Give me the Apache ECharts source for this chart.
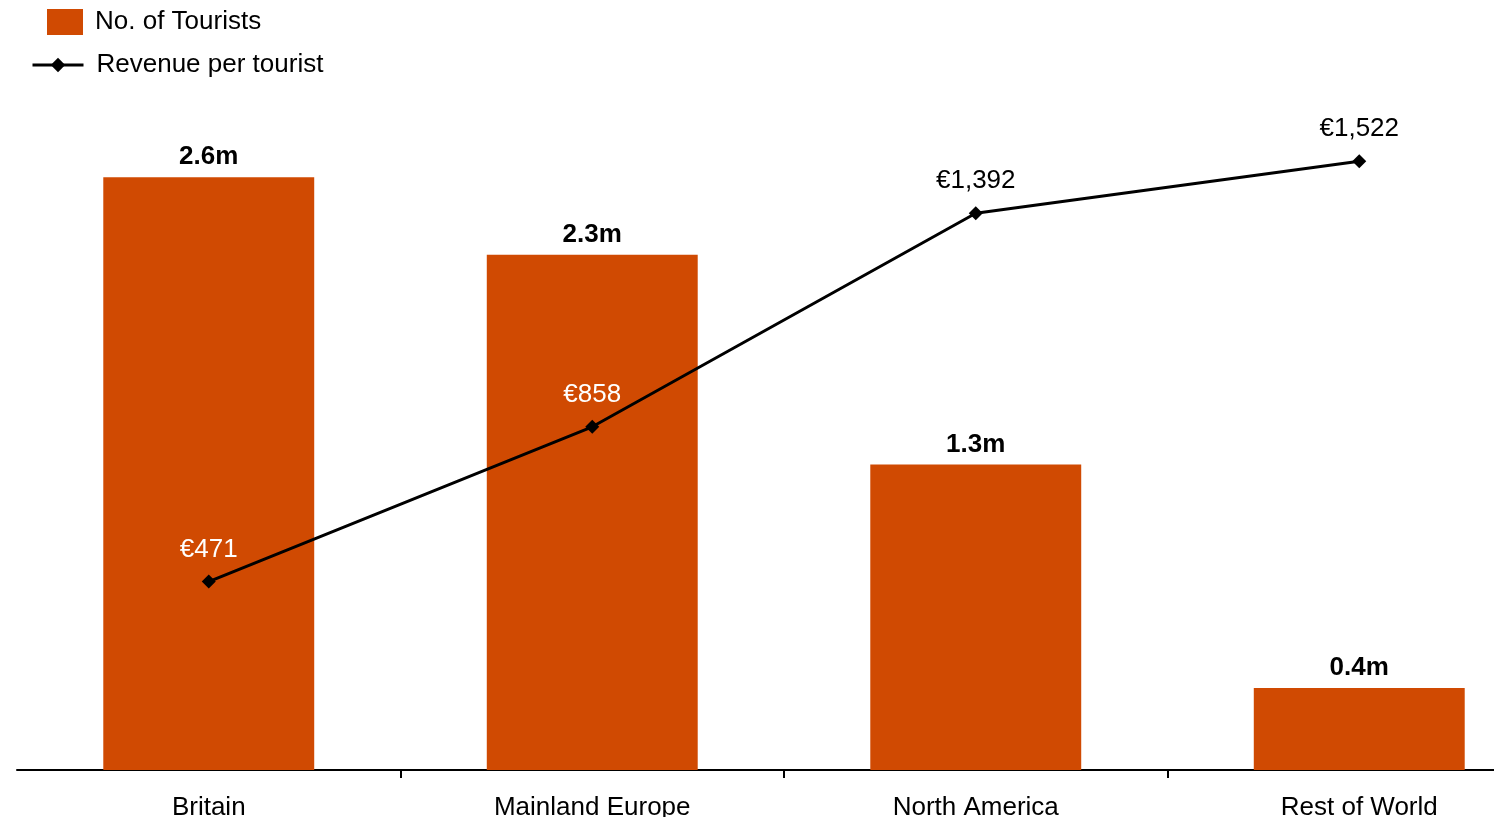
<!DOCTYPE html>
<html>
<head>
<meta charset="utf-8">
<script src="https://cdn.jsdelivr.net/npm/echarts@6/dist/echarts.min.js"></script>
<style>
  html, body { margin: 0; padding: 0; background: #fff; }
  #main { width: 1494px; height: 817px; }
</style>
</head>
<body>
<div id="main"></div>
<script>
// data
var regions = ['Britain', 'Mainland Europe', 'North America', 'Rest of World'];
var tourists = [2.6, 2.26, 1.34, 0.36];          // millions
var revenue = [471, 858, 1392, 1522];            // euro per tourist
var revenueLabelColors = ['#ffffff', '#ffffff', '#000000', '#000000'];

var orange = '#D04A02';
var font = '"Liberation Sans", Arial, sans-serif';

var myChart = echarts.init(document.getElementById('main'));

var option = {
    animation: false,
    textStyle: { fontFamily: font },
    legend: [{
        data: [{ name: 'No. of Tourists', icon: 'rect' }],
        left: 42,
        top: 4,
        itemWidth: 36,
        itemHeight: 26,
        textStyle: { fontSize: 26, color: '#000', padding: [0, 0, 0, 7], fontFamily: font }
    }, {
        data: ['Revenue per tourist'],
        left: 26,
        top: 47,
        itemWidth: 51,
        itemHeight: 18,
        lineStyle: { width: 3 },
        textStyle: { fontSize: 26, color: '#000', padding: [0, 0, 0, 8], fontFamily: font }
    }],
    grid: { left: 17, top: 86, bottom: 47, width: 1534, outerBoundsMode: 'none' },
    xAxis: {
        type: 'category',
        data: regions,
        axisLine: { lineStyle: { color: '#000', width: 2 } },
        axisTick: {
            show: true,
            length: 8,
            lineStyle: { color: '#000', width: 2 },
            interval: function (i) { return i > 0; }
        },
        axisLabel: { fontSize: 26, color: '#000', margin: 25, fontFamily: font }
    },
    yAxis: [
        { type: 'value', min: 0, max: 3, show: false },
        { type: 'value', min: 0, max: 1710, show: false }
    ],
    series: [{
        name: 'No. of Tourists',
        type: 'bar',
        yAxisIndex: 0,
        barWidth: '55%',
        data: tourists,
        itemStyle: { color: orange },
        label: {
            show: true,
            position: 'top',
            distance: 7,
            fontSize: 26,
            fontWeight: 'bold',
            color: '#000',
            fontFamily: font,
            formatter: function (p) { return p.value.toFixed(1) + 'm'; }
        }
    }, {
        name: 'Revenue per tourist',
        type: 'line',
        yAxisIndex: 1,
        symbol: 'diamond',
        symbolSize: 14,
        data: revenue.map(function (v, i) {
            return { value: v, label: { color: revenueLabelColors[i] } };
        }),
        itemStyle: { color: '#000' },
        lineStyle: { color: '#000', width: 3 },
        label: {
            show: true,
            position: 'top',
            distance: 12,
            fontSize: 26,
            fontFamily: font,
            formatter: function (p) { return '€' + p.value.toLocaleString('en-US'); }
        }
    }]
};

myChart.setOption(option);
</script>
</body>
</html>
